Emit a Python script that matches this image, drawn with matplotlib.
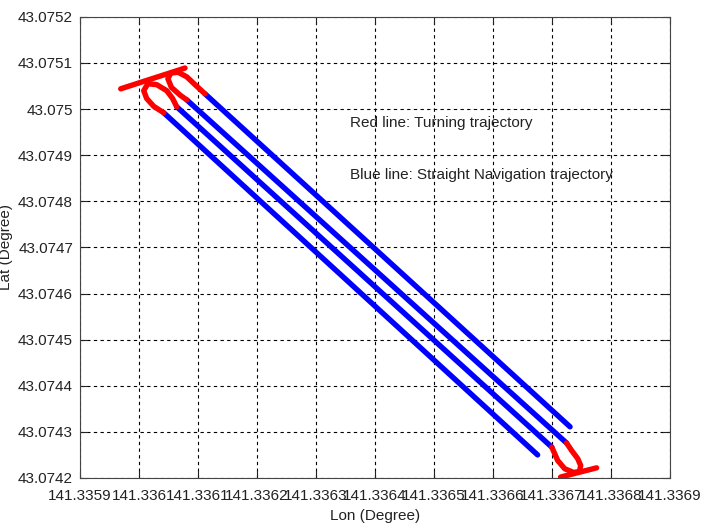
import matplotlib
matplotlib.use("Agg")
import matplotlib.pyplot as plt

plt.rcParams["font.family"] = ["Liberation Sans", "DejaVu Sans"]

# straight navigation legs (blue), endpoints
L1_LON = [141.336731, 141.336112]
L1_LAT = [43.074311, 43.075033]
L2_LON = [141.336081, 141.336725]
L2_LAT = [43.075020, 43.074276]
L3_LON = [141.336700, 141.336064]
L3_LAT = [43.074267, 43.075005]
L4_LON = [141.336042, 141.336676]
L4_LAT = [43.074992, 43.074250]

# turning trajectories (red)
T1_LON = [141.336112, 141.336095, 141.336081, 141.336066, 141.336054, 141.336049, 141.336055, 141.336070, 141.336081]
T1_LAT = [43.075033, 43.075053, 43.075070, 43.075080, 43.075078, 43.075066, 43.075047, 43.075030, 43.075020]
T2_LON = [141.336064, 141.336057, 141.336047, 141.336030, 141.336015, 141.336008, 141.336013, 141.336025, 141.336042]
T2_LAT = [43.075005, 43.075023, 43.075040, 43.075053, 43.075055, 43.075040, 43.075023, 43.075006, 43.074992]
T3_LON = [141.336725, 141.336734, 141.336744, 141.336749, 141.336747, 141.336737, 141.336722, 141.336710, 141.336700]
T3_LAT = [43.074276, 43.074259, 43.074242, 43.074227, 43.074214, 43.074212, 43.074220, 43.074238, 43.074267]
E1_LON = [141.335969, 141.336078]
E1_LAT = [43.075044, 43.075089]
E2_LON = [141.336715, 141.336776]
E2_LAT = [43.074202, 43.074222]

XTICKS = [141.3359, 141.336, 141.3361, 141.3362, 141.3363, 141.3364, 141.3365,
          141.3366, 141.3367, 141.3368, 141.3369]
XLABELS = ["141.3359", "141.336", "141.3361", "141.3362", "141.3363", "141.3364",
           "141.3365", "141.3366", "141.3367", "141.3368", "141.3369"]
YTICKS = [43.0742, 43.0743, 43.0744, 43.0745, 43.0746, 43.0747, 43.0748,
          43.0749, 43.075, 43.0751, 43.0752]
YLABELS = ["43.0742", "43.0743", "43.0744", "43.0745", "43.0746", "43.0747",
           "43.0748", "43.0749", "43.075", "43.0751", "43.0752"]

fig = plt.figure(figsize=(7.02, 5.27), dpi=100)
ax = fig.add_axes([0.114, 0.093, 0.840, 0.875])

for lo, la in [(L1_LON, L1_LAT), (L2_LON, L2_LAT), (L3_LON, L3_LAT), (L4_LON, L4_LAT)]:
    ax.plot(lo, la, color="#0000ff", lw=3.9, solid_capstyle="round")
for lo, la in [(T1_LON, T1_LAT), (T2_LON, T2_LAT), (T3_LON, T3_LAT), (E1_LON, E1_LAT), (E2_LON, E2_LAT)]:
    ax.plot(lo, la, color="#ff0000", lw=3.9, solid_capstyle="round", solid_joinstyle="round")

ax.text(141.336358, 43.074970, "Red line: Turning trajectory", fontsize=11, va="center", color="#222222")
ax.text(141.336358, 43.074857, "Blue line: Straight Navigation trajectory", fontsize=11, va="center", color="#222222")

ax.set_xlim(XTICKS[0], XTICKS[-1])
ax.set_ylim(YTICKS[0], YTICKS[-1])
ax.set_xticks(XTICKS)
ax.set_xticklabels(XLABELS)
ax.set_yticks(YTICKS)
ax.set_yticklabels(YLABELS)
ax.tick_params(direction="in", top=True, right=True, labelsize=11, colors="#222222", length=5)
ax.tick_params(axis="x", pad=8)
ax.tick_params(axis="y", pad=5)
ax.grid(True, color="black", ls=(0, (3, 3)), lw=0.8)
for s in ax.spines.values():
    s.set_color("#444444")
ax.set_xlabel("Lon (Degree)", fontsize=11, color="#222222", labelpad=4)
ax.set_ylabel("Lat (Degree)", fontsize=11, color="#222222", labelpad=4)

fig.savefig("out.png", dpi=100)
